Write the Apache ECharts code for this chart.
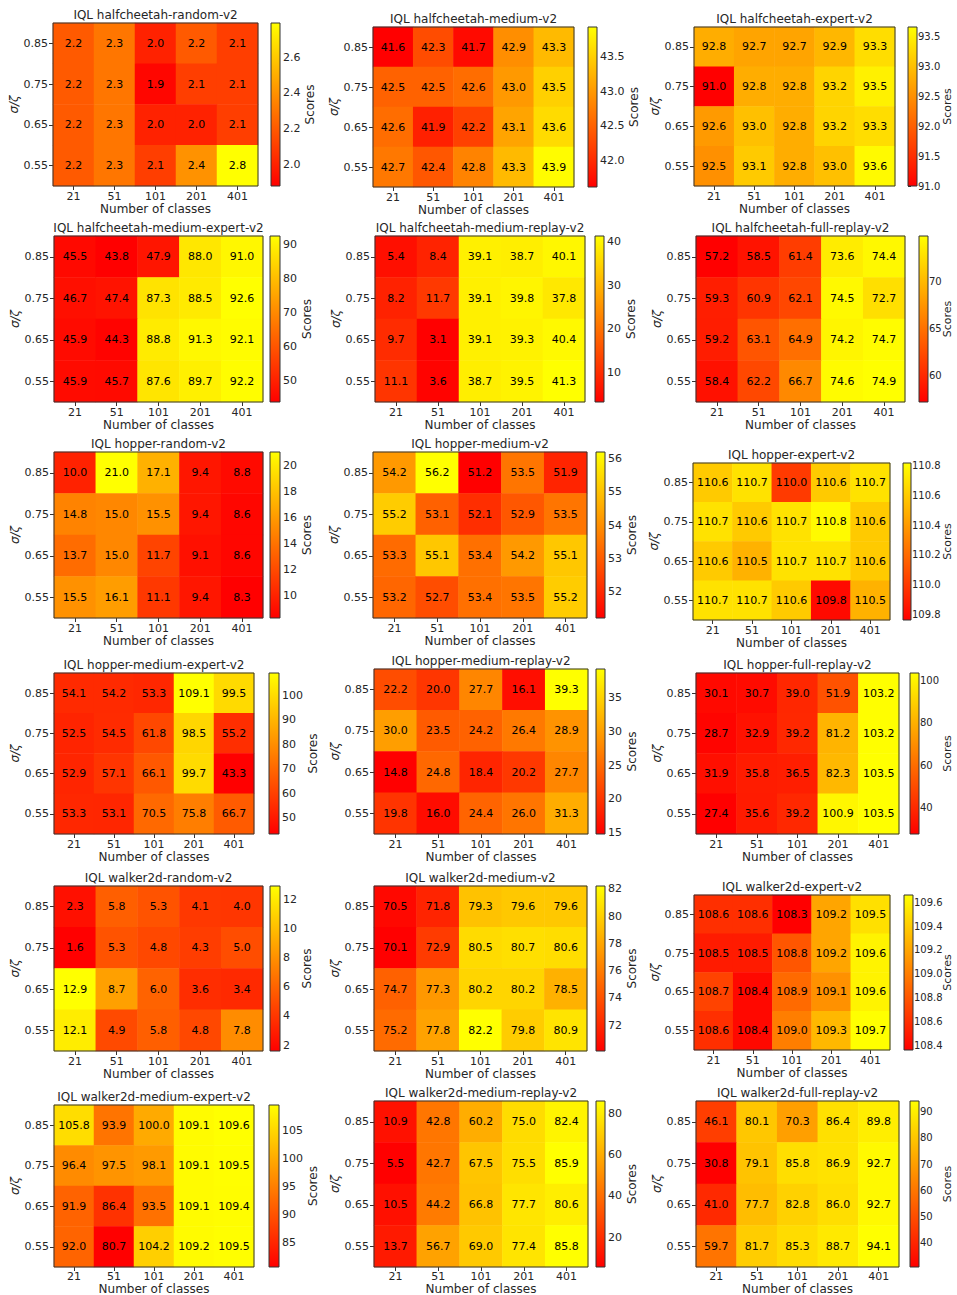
<!DOCTYPE html>
<html><head><meta charset="utf-8">
<script src="https://cdn.jsdelivr.net/npm/echarts@6/dist/echarts.min.js"></script>
<style>html,body{margin:0;padding:0;background:#fff}#c{width:957px;height:1295px}</style>
</head><body><div id="c"></div>
<script>
// ---------------- DATA ----------------
const classLabels = ['21', '51', '101', '201', '401'];
const sigmaLabels = ['0.85', '0.75', '0.65', '0.55'];
const xAxisTitle = 'Number of classes';
const yAxisTitle = 'σ/ζ';
const colorbarTitle = 'Scores';

const titles = [
  'IQL halfcheetah-random-v2', 'IQL halfcheetah-medium-v2', 'IQL halfcheetah-expert-v2',
  'IQL halfcheetah-medium-expert-v2', 'IQL halfcheetah-medium-replay-v2', 'IQL halfcheetah-full-replay-v2',
  'IQL hopper-random-v2', 'IQL hopper-medium-v2', 'IQL hopper-expert-v2',
  'IQL hopper-medium-expert-v2', 'IQL hopper-medium-replay-v2', 'IQL hopper-full-replay-v2',
  'IQL walker2d-random-v2', 'IQL walker2d-medium-v2', 'IQL walker2d-expert-v2',
  'IQL walker2d-medium-expert-v2', 'IQL walker2d-medium-replay-v2', 'IQL walker2d-full-replay-v2'
];

// rows: sigma 0.85, 0.75, 0.65, 0.55 ; columns: 21, 51, 101, 201, 401
const hcRandom = [[2.2,2.3,2.0,2.2,2.1],[2.2,2.3,1.9,2.1,2.1],[2.2,2.3,2.0,2.0,2.1],[2.2,2.3,2.1,2.4,2.8]];
const hcMedium = [[41.6,42.3,41.7,42.9,43.3],[42.5,42.5,42.6,43.0,43.5],[42.6,41.9,42.2,43.1,43.6],[42.7,42.4,42.8,43.3,43.9]];
const hcExpert = [[92.8,92.7,92.7,92.9,93.3],[91.0,92.8,92.8,93.2,93.5],[92.6,93.0,92.8,93.2,93.3],[92.5,93.1,92.8,93.0,93.6]];
const hcMedExp = [[45.5,43.8,47.9,88.0,91.0],[46.7,47.4,87.3,88.5,92.6],[45.9,44.3,88.8,91.3,92.1],[45.9,45.7,87.6,89.7,92.2]];
const hcMedRep = [[5.4,8.4,39.1,38.7,40.1],[8.2,11.7,39.1,39.8,37.8],[9.7,3.1,39.1,39.3,40.4],[11.1,3.6,38.7,39.5,41.3]];
const hcFullRep = [[57.2,58.5,61.4,73.6,74.4],[59.3,60.9,62.1,74.5,72.7],[59.2,63.1,64.9,74.2,74.7],[58.4,62.2,66.7,74.6,74.9]];
const hoRandom = [[10.0,21.0,17.1,9.4,8.8],[14.8,15.0,15.5,9.4,8.6],[13.7,15.0,11.7,9.1,8.6],[15.5,16.1,11.1,9.4,8.3]];
const hoMedium = [[54.2,56.2,51.2,53.5,51.9],[55.2,53.1,52.1,52.9,53.5],[53.3,55.1,53.4,54.2,55.1],[53.2,52.7,53.4,53.5,55.2]];
const hoExpert = [[110.6,110.7,110.0,110.6,110.7],[110.7,110.6,110.7,110.8,110.6],[110.6,110.5,110.7,110.7,110.6],[110.7,110.7,110.6,109.8,110.5]];
const hoMedExp = [[54.1,54.2,53.3,109.1,99.5],[52.5,54.5,61.8,98.5,55.2],[52.9,57.1,66.1,99.7,43.3],[53.3,53.1,70.5,75.8,66.7]];
const hoMedRep = [[22.2,20.0,27.7,16.1,39.3],[30.0,23.5,24.2,26.4,28.9],[14.8,24.8,18.4,20.2,27.7],[19.8,16.0,24.4,26.0,31.3]];
const hoFullRep = [[30.1,30.7,39.0,51.9,103.2],[28.7,32.9,39.2,81.2,103.2],[31.9,35.8,36.5,82.3,103.5],[27.4,35.6,39.2,100.9,103.5]];
const waRandom = [[2.3,5.8,5.3,4.1,4.0],[1.6,5.3,4.8,4.3,5.0],[12.9,8.7,6.0,3.6,3.4],[12.1,4.9,5.8,4.8,7.8]];
const waMedium = [[70.5,71.8,79.3,79.6,79.6],[70.1,72.9,80.5,80.7,80.6],[74.7,77.3,80.2,80.2,78.5],[75.2,77.8,82.2,79.8,80.9]];
const waExpert = [[108.6,108.6,108.3,109.2,109.5],[108.5,108.5,108.8,109.2,109.6],[108.7,108.4,108.9,109.1,109.6],[108.6,108.4,109.0,109.3,109.7]];
const waMedExp = [[105.8,93.9,100.0,109.1,109.6],[96.4,97.5,98.1,109.1,109.5],[91.9,86.4,93.5,109.1,109.4],[92.0,80.7,104.2,109.2,109.5]];
const waMedRep = [[10.9,42.8,60.2,75.0,82.4],[5.5,42.7,67.5,75.5,85.9],[10.5,44.2,66.8,77.7,80.6],[13.7,56.7,69.0,77.4,85.8]];
const waFullRep = [[46.1,80.1,70.3,86.4,89.8],[30.8,79.1,85.8,86.9,92.7],[41.0,77.7,82.8,86.0,92.7],[59.7,81.7,85.3,88.7,94.1]];

const panelValues = [hcRandom, hcMedium, hcExpert, hcMedExp, hcMedRep, hcFullRep,
  hoRandom, hoMedium, hoExpert, hoMedExp, hoMedRep, hoFullRep,
  waRandom, waMedium, waExpert, waMedExp, waMedRep, waFullRep];

// colour-scale extent [min, max]
const scoreRanges = [
  [1.88, 2.79], [41.61, 43.93], [91.0, 93.65],
  [43.8, 92.6], [3.1, 41.3], [57.2, 74.9],
  [8.3, 21.0], [51.2, 56.2], [109.76, 110.82],
  [43.3, 109.1], [14.8, 39.3], [27.4, 103.5],
  [1.6, 12.9], [70.1, 82.2], [108.36, 109.66],
  [80.7, 109.6], [5.5, 85.9], [30.8, 94.1]
];
// colour-bar tick labels
const scoreTicks = [
  [2.0, 2.2, 2.4, 2.6], [42.0, 42.5, 43.0, 43.5], [91.0, 91.5, 92.0, 92.5, 93.0, 93.5],
  [50, 60, 70, 80, 90], [10, 20, 30, 40], [60, 65, 70],
  [10, 12, 14, 16, 18, 20], [52, 53, 54, 55, 56], [109.8, 110.0, 110.2, 110.4, 110.6, 110.8],
  [50, 60, 70, 80, 90, 100], [15, 20, 25, 30, 35], [40, 60, 80, 100],
  [2, 4, 6, 8, 10, 12], [72, 74, 76, 78, 80, 82], [108.4, 108.6, 108.8, 109.0, 109.2, 109.4, 109.6],
  [85, 90, 95, 100, 105], [20, 40, 60, 80], [40, 50, 60, 70, 80, 90]
];

// ---------------- LAYOUT (pixels) ----------------
// [plotLeft, plotRight, plotTop, plotBottom, barLeft, barRight]
const boxes = [
  [53, 258, 23, 186, 271, 280], [373, 574, 27, 187, 588, 597], [694, 895, 27, 186, 908, 917],
  [54, 263, 236, 402, 270, 280], [375, 585, 236, 402, 595, 604], [696, 905, 236, 402, 919, 928],
  [54, 263, 452, 618, 270, 280], [373, 587, 452, 618, 596, 605], [693, 890, 463, 620, 903, 911],
  [54, 254, 673, 834, 269, 279], [374, 588, 669, 834, 596, 605], [696, 899, 673, 834, 910, 919],
  [54, 263, 886, 1051, 270, 280], [374, 587, 886, 1051, 596, 605], [694, 890, 895, 1050, 904, 913],
  [54, 254, 1105, 1267, 269, 279], [374, 588, 1101, 1267, 596, 605], [696, 899, 1101, 1267, 910, 919]
];

const FONT = 'DejaVu Sans';
const TXT = '#262626';
const EDGE = '#333333';
const LOW = '#ff0000', HIGH = '#ffff00';

const grid = [], xAxis = [], yAxis = [], series = [], visualMap = [], title = [];
const N = titles.length;

function fmtTick(ticks) {
  const dec = ticks.some(t => Math.abs(t - Math.round(t)) > 1e-9) ? 1 : 0;
  return v => Number(v).toFixed(dec);
}
function labelWidth(s) {
  let w = 0;
  for (const ch of s) w += (ch === '.') ? 3.5 : 7;
  return w;
}

for (let i = 0; i < N; i++) {
  const [l, r, t, b, cl, cr] = boxes[i];
  const lastRow = i >= N - 3;
  grid.push({ left: l, top: t, width: r - l, height: b - t, containLabel: false, outerBoundsMode: 'none',
    show: true, backgroundColor: 'transparent', borderColor: EDGE, borderWidth: 1, z: 3 });
  xAxis.push({ type: 'category', gridIndex: i, data: classLabels, position: 'bottom',
    axisLine: { show: false }, splitLine: { show: false }, splitArea: { show: false },
    axisTick: { show: true, alignWithLabel: true, length: 4, lineStyle: { color: EDGE } },
    axisLabel: { fontFamily: FONT, fontSize: 11, color: TXT, margin: lastRow ? 4 : 5 },
    name: xAxisTitle, nameLocation: 'middle', nameGap: lastRow ? 12 : 15,
    nameTextStyle: { fontFamily: FONT, fontSize: 12, color: TXT } });
  yAxis.push({ type: 'category', gridIndex: i, data: sigmaLabels, inverse: true,
    axisLine: { show: false }, splitLine: { show: false }, splitArea: { show: false },
    axisTick: { show: true, alignWithLabel: true, length: 4, lineStyle: { color: EDGE } },
    axisLabel: { fontFamily: FONT, fontSize: 11, color: TXT, margin: 5 },
    name: yAxisTitle, nameLocation: 'middle', nameGap: 33, nameRotate: 90,
    nameTextStyle: { fontFamily: FONT, fontSize: 12, fontStyle: 'italic', color: TXT } });
  const data = [];
  panelValues[i].forEach((row, ri) => row.forEach((v, ci) => data.push([ci, ri, v])));
  series.push({ type: 'heatmap', xAxisIndex: i, yAxisIndex: i, data: data,
    label: { show: true, fontFamily: FONT, fontSize: 11, color: '#000',
      formatter: p => p.value[2].toFixed(1) },
    emphasis: { disabled: true }, itemStyle: { borderWidth: 0 } });
  visualMap.push({ type: 'continuous', show: false, seriesIndex: i, dimension: 2,
    min: scoreRanges[i][0], max: scoreRanges[i][1],
    inRange: { color: [LOW, HIGH] } });
  title.push({ text: titles[i], left: (l + r) / 2, top: t - 14, textAlign: 'center', padding: 0,
    textStyle: { fontFamily: FONT, fontSize: 12, fontWeight: 'normal', color: TXT } });
}
// colour bars: gradient-filled grid + value axis with the tick labels
for (let i = 0; i < N; i++) {
  const [l, r, t, b, cl, cr] = boxes[i];
  const ticks = scoreTicks[i];
  const f = fmtTick(ticks);
  const w = Math.max(...ticks.map(v => labelWidth(f(v))));
  const edgeCol = (i % 3 === 2);
  const gap = edgeCol ? (942 - cr) : (w + 6.5);
  grid.push({ left: cl, top: t, width: cr - cl, height: b - t, containLabel: false, outerBoundsMode: 'none',
    show: true, borderColor: EDGE, borderWidth: 1, z: 5,
    backgroundColor: { type: 'linear', x: 0, y: 0, x2: 0, y2: 1,
      colorStops: [{ offset: 0, color: HIGH }, { offset: 1, color: LOW }] } });
  xAxis.push({ type: 'value', gridIndex: N + i, min: 0, max: 1, show: false });
  yAxis.push({ type: 'value', gridIndex: N + i, position: 'right',
    min: scoreRanges[i][0], max: scoreRanges[i][1],
    axisLine: { show: false }, splitLine: { show: false },
    axisTick: { show: true, length: 3, customValues: ticks, lineStyle: { color: EDGE } },
    axisLabel: { show: true, customValues: ticks, formatter: f, fontFamily: FONT,
      fontSize: edgeCol ? 10 : 11, color: TXT, margin: edgeCol ? 1 : 3 },
    name: colorbarTitle, nameLocation: 'middle', nameRotate: 90, nameGap: gap, nameMoveOverlap: false,
    nameTextStyle: { fontFamily: FONT, fontSize: edgeCol ? 11 : 12, color: TXT } });
}

const chart = echarts.init(document.getElementById('c'), null, { renderer: 'svg', width: 957, height: 1295 });
chart.setOption({ animation: false, backgroundColor: '#ffffff',
  title, grid, xAxis, yAxis, series, visualMap });
</script>
</body></html>
